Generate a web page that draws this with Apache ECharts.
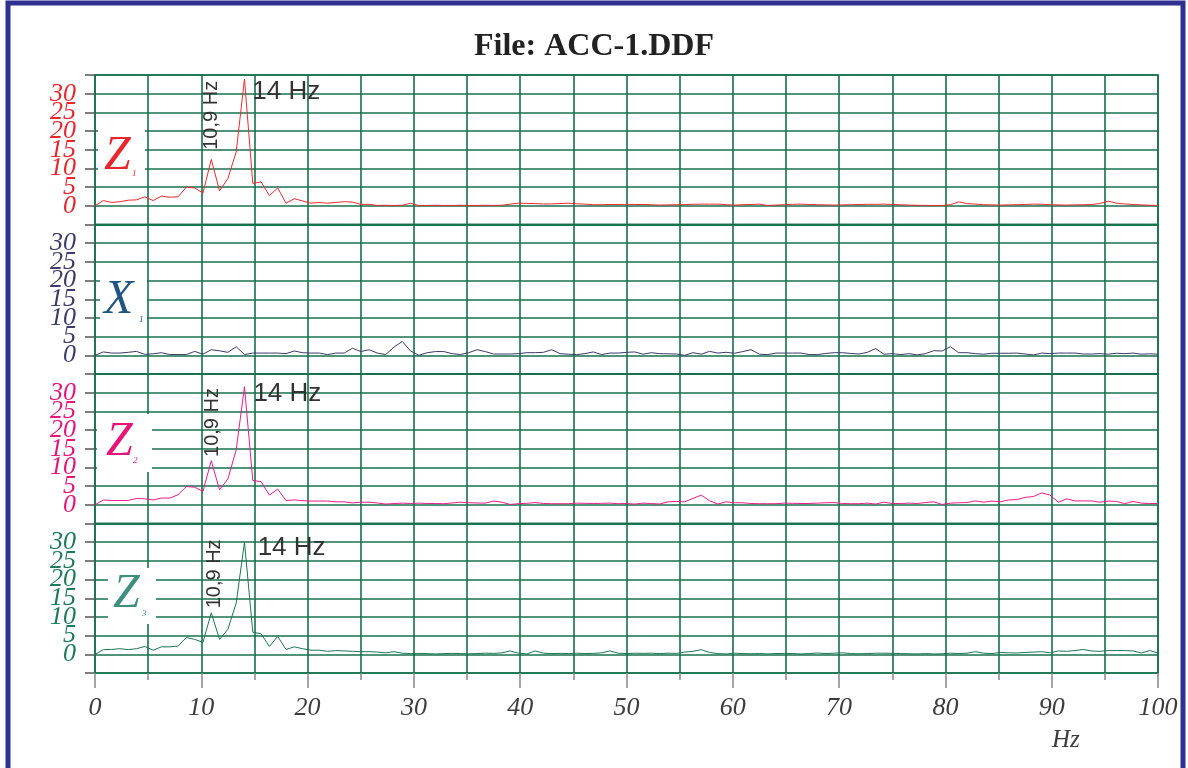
<!DOCTYPE html>
<html><head><meta charset="utf-8">
<script src="https://cdn.jsdelivr.net/npm/echarts@6/dist/echarts.min.js"></script>
<style>html,body{margin:0;padding:0;background:#fff}#c{width:1188px;height:768px}</style>
</head><body><div id="c"></div>
<script>
// frequency step between spectrum lines (Hz)
const freqStep = 100 / 128;

const z1Values = [0,1.4,0.9,1.1,1.5,1.6,2.4,1.4,2.6,2.3,2.4,5.0,4.8,3.4,12.4,4.0,7.3,14.4,33.9,6.0,6.4,2.7,4.8,0.7,1.9,1.3,0.7,0.9,0.7,0.9,1.1,1.0,0.4,0.4,0.1,
0.15,0.1,0.15,0.7,0.05,0.1,0.15,0.1,0.1,0.15,0.1,0.1,0.15,0.1,0.15,
0.45,0.7,0.65,0.6,0.5,0.5,0.6,0.7,0.55,0.45,0.3,0.3,0.35,0.35,0.4,0.35,0.35,
0.3,0.2,0.25,0.3,0.35,0.4,0.45,0.45,0.45,0.3,0.2,0.3,0.35,0.45,
0.1,0.2,0.3,0.4,0.45,0.35,0.3,0.25,0.2,0.25,0.3,0.35,0.4,0.4,0.45,0.35,0.3,0.2,0.15,0.1,
0.1,0.1,0.3,1.05,0.6,0.45,0.3,0.25,0.2,0.25,0.3,0.35,0.45,0.4,0.3,0.25,0.2,0.25,0.3,0.35,0.6,1.25,0.7,0.5,0.35,0.25,0.15,0.1];

const x1Values = [0,0.9,0.6,0.6,0.8,1.05,0.25,0.4,0.7,0.2,0.2,0.2,1.05,0.3,1.5,1.2,0.8,2.3,0.2,0.6,
0.6,0.6,0.6,0.45,1.15,0.7,0.6,0.6,0.2,0.6,0.6,1.9,1.0,1.5,0.6,0.2,2.2,3.7,1.15,0,
0.7,1.0,1.0,0.45,0.2,0.7,1.5,1.0,0.35,0.35,0.35,0.45,0.7,0.7,0.8,1.5,0.45,0.3,0.2,0.45,
0.9,0.2,0.6,0.6,0.8,0.9,0.3,0.7,0.45,0.4,0.35,0,0.7,0.3,1.05,0.6,0.8,0.55,1.0,1.5,
0.3,0.2,0.6,0.6,0.6,0.6,0.2,0.2,0.5,0.7,0.7,0.5,0.35,0.8,1.8,0.3,0.45,0.2,0.45,0.1,
0.45,1.25,1.15,2.3,0.7,0.7,0.45,0.3,0.55,0.55,0.55,0.6,0.35,0.1,0.6,0.45,0.6,0.6,0.6,0.35,
0.35,0.45,0.3,0.55,0.45,0.6,0.3,0.4,0.3];

const z2Values = [0,1.3,1.15,1.15,1.15,1.7,1.6,1.3,1.8,1.8,2.7,4.9,4.7,3.6,11.8,4.0,6.9,14.7,31.6,6.5,
6.2,2.6,4.2,1.15,1.3,1.1,1.0,1.0,1.0,0.8,0.8,0.5,0.7,0.7,0.5,0.2,0.35,0.45,0.35,0.45,
0.35,0.35,0.3,0.5,0.7,0.55,0.5,0.45,1.0,0.7,0.1,0.3,0.4,0.6,0.35,0.3,0.3,0.3,0.45,0.4,
0.35,0.4,0.45,0.3,0.35,0.2,0.45,0.35,0.2,0.8,0.9,0.8,1.7,2.6,1.1,0.2,0.8,0.55,0.55,0.35,
0.3,0.3,0.3,0.45,0.4,0.35,0.35,0.45,0.55,0.6,0.35,0.3,0.3,0.45,0.2,0.7,0.35,0.35,0.45,0.35,
0.6,0.8,0.1,0.45,0.55,0.6,1.05,0.7,1.0,0.8,1.3,1.4,2.0,2.2,3.2,2.6,0.7,1.6,1.05,1.05,
1.05,0.7,1.0,0.9,0.3,0.9,0.45,0.35,0.35];

const z3Values = [0,1.25,1.3,1.5,1.25,1.5,2.1,1.1,2.0,2.0,2.2,4.5,4.0,3.2,11.1,4.0,6.7,13.7,30,5.9,
5.5,2.1,4.8,1.3,2.0,1.5,1.1,1.1,0.8,1.0,0.9,0.8,0.7,0.7,0.6,0.4,0.7,0.3,0.2,0.25,
0.2,0.1,0.2,0.25,0.2,0.15,0.2,0.3,0.25,0.4,0.9,0.3,0.1,0.9,0.3,0.2,0.25,0.2,0.3,0.2,
0.25,0.4,0.9,0.3,0.2,0.3,0.25,0.3,0.2,0.3,0.25,0.6,0.8,1.25,0.5,0.2,0.1,0.3,0.2,0.15,
0.2,0.1,0.2,0.25,0.2,0.1,0.2,0.35,0.2,0.3,0.4,0.2,0.15,0.2,0.3,0.3,0.25,0.2,0.15,0.1,
0.2,0.1,0.15,0.3,0.2,0.3,0.7,0.3,0.2,0.5,0.4,0.35,0.5,0.6,0.7,0.4,0.9,0.8,1.0,1.3,
0.9,0.8,1.0,1.0,1.0,0.9,0.35,1.0,0.35];

const xTickValues = [0,10,20,30,40,50,60,70,80,90,100];
const yTickValues = [0,5,10,15,20,25,30];
const panelNames = ['Z', 'X', 'Z', 'Z'];
const panelSubs = ['1', '1', '2', '3'];
const peakLabels = ['10,9 Hz', '14 Hz'];

// ---- styling / layout ----
const seriesList = [z1Values, x1Values, z2Values, z3Values];
const lineColors = ['#ee2b2f', '#3b3a6a', '#ec1c88', '#1b7653'];
const labelColors = ['#e8262d', '#3d3b6b', '#e6157a', '#1d7a5a'];
const letterColors = ['#e8262d', '#1f5580', '#e6157a', '#3f8f80'];
const gridColor = '#17704c';
const gridTops = [75, 224.5, 374, 523.5];
const gridH = 149.5;
const serif = '"Liberation Serif", "Times New Roman", serif';
const sans = '"Liberation Sans", Arial, sans-serif';

// annotation anchors [Hz, value] per panel (null = none)
const annot = [
  {v: [10.95, 15.0], h: [14.8, 30.5]},
  null,
  {v: [11.05, 12.8], h: [14.9, 29.8]},
  {v: [11.25, 12.3], h: [15.3, 28.4]}
];

// label boxes
const boxes = [
  {rx: 98, ry: 122, rw: 47, rh: 57, lx: 104, ly: 156, sx: 132, sy: 174},
  {rx: 100, ry: 270, rw: 47, rh: 58, lx: 104, ly: 300, sx: 139, sy: 320},
  {rx: 97, ry: 414, rw: 55, rh: 58, lx: 106, ly: 442, sx: 133, sy: 461},
  {rx: 108, ry: 568, rw: 48, rh: 56, lx: 113, ly: 594, sx: 142, sy: 614}
];

const grids = [], xAxes = [], yAxes = [], series = [], graphics = [];
seriesList.forEach((vals, p) => {
  const bottom = p === 3;
  grids.push({left: 95, right: 30, top: gridTops[p], height: gridH,
    show: true, borderColor: gridColor, borderWidth: 1.6, backgroundColor: 'transparent'});
  xAxes.push({
    type: 'value', gridIndex: p, min: 0, max: 100, interval: 10,
    axisLine: {show: false, onZero: false},
    axisTick: {show: bottom, length: 15, lineStyle: {color: '#888', width: 1.5}},
    minorTick: {show: bottom, splitNumber: 2, length: 7, lineStyle: {color: '#888', width: 1.5}},
    splitLine: {show: true, lineStyle: {color: gridColor, width: 1.6}},
    minorSplitLine: {show: true, lineStyle: {color: gridColor, width: 1.6}},
    axisLabel: {
      show: bottom, margin: 22, color: '#3c3c3c', fontFamily: serif, fontStyle: 'italic', fontSize: 26,
      formatter: v => xTickValues.includes(v) ? String(v) : ''
    }
  });
  yAxes.push({
    type: 'value', gridIndex: p, min: -5, max: 35, interval: 5,
    axisLine: {show: false},
    axisTick: {show: true, length: 10, lineStyle: {color: '#555', width: 1.5}},
    splitLine: {show: true, lineStyle: {color: gridColor, width: 1.6}},
    axisLabel: {
      margin: 19, color: labelColors[p], fontFamily: serif, fontStyle: 'italic', fontSize: 26,
      showMinLabel: true, showMaxLabel: true,
      formatter: v => yTickValues.includes(v) ? String(v) : ''
    }
  });
  const mp = [];
  if (annot[p]) {
    mp.push({coord: annot[p].v, symbolSize: 0,
      label: {show: true, formatter: peakLabels[0], position: [0, 0], rotate: 90, align: 'left', verticalAlign: 'middle',
        color: '#333', fontFamily: sans, fontSize: 20}});
    mp.push({coord: annot[p].h, symbolSize: 0,
      label: {show: true, formatter: peakLabels[1], position: [0, 0], align: 'left', verticalAlign: 'middle',
        color: '#333', fontFamily: sans, fontSize: 26}});
  }
  series.push({
    type: 'line', xAxisIndex: p, yAxisIndex: p, symbol: 'none', showSymbol: false,
    lineStyle: {color: lineColors[p], width: 1}, itemStyle: {color: lineColors[p]},
    data: vals.map((v, i) => [i * freqStep, v]),
    markPoint: mp.length ? {symbol: 'circle', symbolSize: 0, silent: true, data: mp} : undefined,
    z: 3
  });
  const b = boxes[p];
  graphics.push({type: 'rect', z: 50, shape: {x: b.rx, y: b.ry, width: b.rw, height: b.rh}, style: {fill: '#fff'}});
  graphics.push({type: 'text', z: 51, x: b.lx, y: b.ly, style: {text: panelNames[p], fill: letterColors[p],
    font: 'italic 48px ' + serif, align: 'left', verticalAlign: 'middle'}});
  graphics.push({type: 'text', z: 51, x: b.sx, y: b.sy, style: {text: panelSubs[p], fill: letterColors[p],
    font: 'italic 9px ' + serif, align: 'left', verticalAlign: 'middle'}});
});

graphics.push({type: 'text', z: 51, x: 1052, y: 740, style: {text: 'Hz', fill: '#3c3c3c',
  font: 'italic 25px ' + serif, align: 'left', verticalAlign: 'middle'}});
graphics.push({type: 'rect', z: 60, shape: {x: 8, y: 3, width: 1175, height: 800},
  style: {fill: 'none', stroke: '#2e3192', lineWidth: 5}});

const chart = echarts.init(document.getElementById('c'), null, {renderer: 'canvas'});
chart.setOption({
  animation: false,
  backgroundColor: '#fff',
  title: {text: 'File: ACC-1.DDF', left: 'center', top: 26,
    textStyle: {fontFamily: serif, fontWeight: 'bold', fontSize: 32, color: '#222'}},
  grid: grids, xAxis: xAxes, yAxis: yAxes, series: series, graphic: graphics
});
</script></body></html>
